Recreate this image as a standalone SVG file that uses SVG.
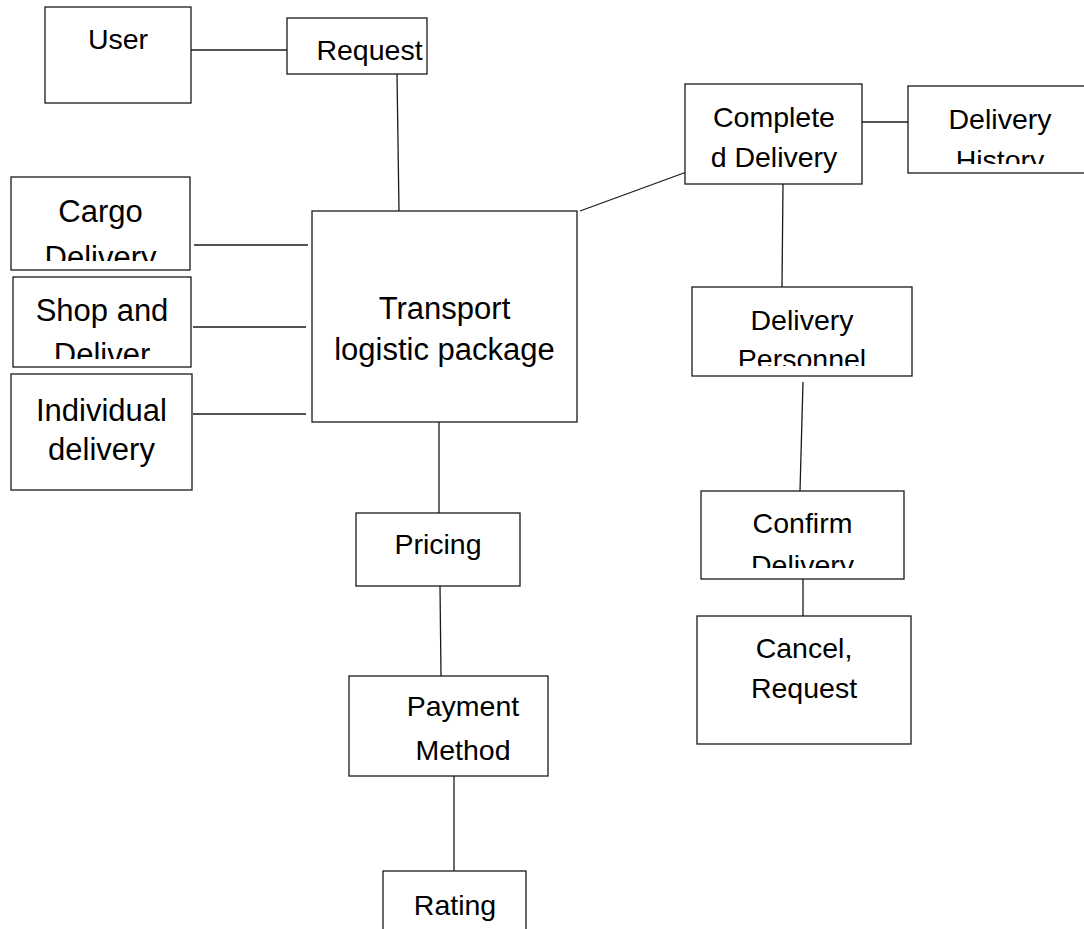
<svg xmlns="http://www.w3.org/2000/svg" width="1084" height="929" viewBox="0 0 1084 929">
  <style>
    .box { fill: #ffffff; stroke: #1a1a1a; stroke-width: 1.3; }
    .conn { fill: none; stroke: #1a1a1a; stroke-width: 1.3; }
    .t { font-family: "Liberation Sans", Arial, sans-serif; font-size: 28.5px; fill: #000; text-anchor: middle; }
    .tl { font-family: "Liberation Sans", Arial, sans-serif; font-size: 31px; fill: #000; text-anchor: middle; }
  </style>
  <defs>
    <clipPath id="clipCargo" clipPathUnits="userSpaceOnUse"><rect x="11" y="177" width="179" height="84"/></clipPath>
    <clipPath id="clipShop" clipPathUnits="userSpaceOnUse"><rect x="13" y="277" width="178" height="82"/></clipPath>
    <clipPath id="clipHistory" clipPathUnits="userSpaceOnUse"><rect x="908" y="86" width="184" height="78"/></clipPath>
    <clipPath id="clipPersonnel" clipPathUnits="userSpaceOnUse"><rect x="692" y="287" width="220" height="79"/></clipPath>
    <clipPath id="clipConfirm" clipPathUnits="userSpaceOnUse"><rect x="701" y="491" width="203" height="77"/></clipPath>
  </defs>
  <rect width="1084" height="929" fill="#ffffff"/>

  <g id="connectors">
    <path class="conn" d="M188,50 H287"/>
    <path class="conn" d="M397,74 L399,211"/>
    <path class="conn" d="M194,245 H308"/>
    <path class="conn" d="M193,327 H306"/>
    <path class="conn" d="M193,414 H306"/>
    <path class="conn" d="M580,211 L692,170"/>
    <path class="conn" d="M862,122 H908"/>
    <path class="conn" d="M783,184 L782,287"/>
    <path class="conn" d="M803,382 L800,491"/>
    <path class="conn" d="M803,579 V616"/>
    <path class="conn" d="M439,422 V513"/>
    <path class="conn" d="M440,586 L441,676"/>
    <path class="conn" d="M454,776 V871"/>
  </g>

  <g id="user">
    <rect class="box" x="45" y="7" width="146" height="96"/>
    <text class="t" x="118" y="49">User</text>
  </g>
  <g id="request">
    <rect class="box" x="287" y="18" width="140" height="56"/>
    <text class="t" x="369.5" y="60">Request</text>
  </g>
  <g id="cargo-delivery">
    <rect class="box" x="11" y="177" width="179" height="93"/>
    <g clip-path="url(#clipCargo)">
      <text class="tl" x="100.5" y="222">Cargo</text>
      <text class="tl" x="100.5" y="268">Delivery</text>
    </g>
  </g>
  <g id="shop-and-deliver">
    <rect class="box" x="13" y="277" width="178" height="90"/>
    <g clip-path="url(#clipShop)">
      <text class="tl" x="102" y="321">Shop and</text>
      <text class="tl" x="102" y="365">Deliver</text>
    </g>
  </g>
  <g id="individual-delivery">
    <rect class="box" x="11" y="374" width="181" height="116"/>
    <text class="tl" x="101.5" y="421">Individual</text>
    <text class="tl" x="101.5" y="460">delivery</text>
  </g>
  <g id="transport">
    <rect class="box" x="312" y="211" width="265" height="211"/>
    <text class="tl" x="444.5" y="318.5">Transport</text>
    <text class="tl" x="444.5" y="359.5">logistic package</text>
  </g>
  <g id="completed-delivery">
    <rect class="box" x="685" y="84" width="177" height="100"/>
    <text class="t" x="774" y="126.5">Complete</text>
    <text class="t" x="774" y="167">d Delivery</text>
  </g>
  <g id="delivery-history">
    <rect class="box" x="908" y="86" width="184" height="87"/>
    <g clip-path="url(#clipHistory)">
      <text class="t" x="1000" y="128.5">Delivery</text>
      <text class="t" x="1000" y="170">History</text>
    </g>
  </g>
  <g id="delivery-personnel">
    <rect class="box" x="692" y="287" width="220" height="89"/>
    <g clip-path="url(#clipPersonnel)">
      <text class="t" x="802" y="330">Delivery</text>
      <text class="t" x="802" y="369">Personnel</text>
    </g>
  </g>
  <g id="confirm-delivery">
    <rect class="box" x="701" y="491" width="203" height="88"/>
    <g clip-path="url(#clipConfirm)">
      <text class="t" x="802.5" y="532.5">Confirm</text>
      <text class="t" x="802.5" y="575">Delivery</text>
    </g>
  </g>
  <g id="cancel-request">
    <rect class="box" x="697" y="616" width="214" height="128"/>
    <text class="t" x="804" y="658">Cancel,</text>
    <text class="t" x="804" y="698">Request</text>
  </g>
  <g id="pricing">
    <rect class="box" x="356" y="513" width="164" height="73"/>
    <text class="t" x="438" y="553.5">Pricing</text>
  </g>
  <g id="payment-method">
    <rect class="box" x="349" y="676" width="199" height="100"/>
    <text class="t" x="463" y="716">Payment</text>
    <text class="t" x="463" y="760">Method</text>
  </g>
  <g id="rating">
    <rect class="box" x="383" y="871" width="143" height="69"/>
    <text class="t" x="455" y="915">Rating</text>
  </g>
</svg>
